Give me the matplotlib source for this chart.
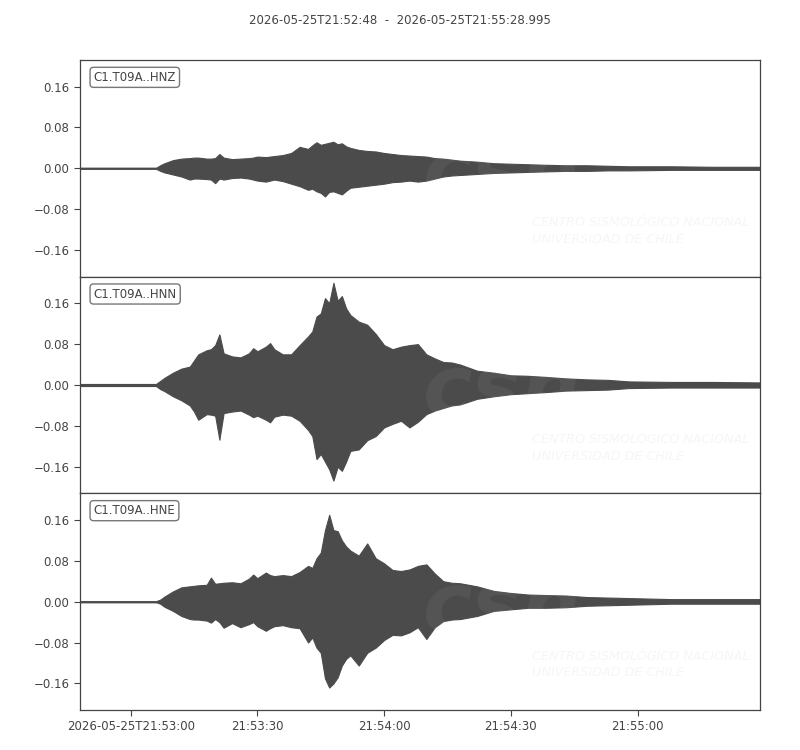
import numpy as np
import matplotlib
matplotlib.use("Agg")
import matplotlib.pyplot as plt

# ---------- Данные (огибающие трасс) ----------
TITLE = "2026-05-25T21:52:48  -  2026-05-25T21:55:28.995"
DURATION = 160.995  # секунды от 21:52:48

# время, с от начала записи
T = [0, 18, 19, 20, 22, 24, 26, 27, 28, 30, 31, 32, 33, 34, 36, 38, 40, 41, 42, 44,
     45, 46, 48, 50, 52, 54, 55, 56, 57, 58, 59, 60, 61, 62, 63, 64, 66, 68, 70, 72,
     74, 76, 78, 80, 82, 84, 86, 88, 90, 94, 98, 102, 106, 110, 115, 120, 125, 130,
     140, 150, 160.995]

HNZ_UP = [0.001, 0.001, 0.006, 0.010, 0.016, 0.019, 0.020, 0.021, 0.021, 0.019, 0.019, 0.020,
          0.028, 0.021, 0.018, 0.019, 0.020, 0.021, 0.023, 0.022, 0.023, 0.024, 0.026, 0.030,
          0.042, 0.038, 0.045, 0.051, 0.046, 0.048, 0.050, 0.052, 0.047, 0.049, 0.043, 0.040,
          0.036, 0.034, 0.033, 0.030, 0.028, 0.026, 0.025, 0.024, 0.023, 0.020, 0.019, 0.017,
          0.015, 0.013, 0.010, 0.009, 0.008, 0.007, 0.006, 0.006, 0.005, 0.004, 0.004, 0.003,
          0.003]
HNZ_LO = [-0.001, -0.001, -0.005, -0.008, -0.012, -0.016, -0.022, -0.020, -0.020, -0.021, -0.022,
          -0.029, -0.020, -0.022, -0.019, -0.018, -0.020, -0.022, -0.024, -0.026, -0.024, -0.022,
          -0.025, -0.030, -0.035, -0.042, -0.040, -0.045, -0.048, -0.055, -0.046, -0.045, -0.048,
          -0.051, -0.044, -0.038, -0.036, -0.034, -0.032, -0.030, -0.027, -0.026, -0.024, -0.026,
          -0.024, -0.020, -0.016, -0.014, -0.013, -0.011, -0.009, -0.008, -0.007, -0.006, -0.005,
          -0.005, -0.004, -0.004, -0.003, -0.003, -0.003]

HNN_UP = [0.002, 0.002, 0.008, 0.014, 0.024, 0.032, 0.036, 0.048, 0.060, 0.068, 0.070, 0.078,
          0.099, 0.062, 0.056, 0.054, 0.062, 0.072, 0.066, 0.075, 0.082, 0.070, 0.060, 0.060,
          0.078, 0.095, 0.105, 0.134, 0.140, 0.170, 0.160, 0.200, 0.165, 0.174, 0.150, 0.137,
          0.124, 0.118, 0.100, 0.078, 0.070, 0.075, 0.078, 0.080, 0.060, 0.052, 0.045, 0.044,
          0.040, 0.028, 0.024, 0.019, 0.018, 0.016, 0.013, 0.011, 0.010, 0.007, 0.006, 0.006,
          0.005]
HNN_LO = [-0.002, -0.002, -0.008, -0.012, -0.022, -0.030, -0.040, -0.052, -0.068, -0.057, -0.058,
          -0.060, -0.107, -0.055, -0.052, -0.050, -0.058, -0.063, -0.060, -0.068, -0.073, -0.062,
          -0.058, -0.060, -0.070, -0.088, -0.100, -0.145, -0.135, -0.150, -0.165, -0.187, -0.160,
          -0.168, -0.150, -0.129, -0.126, -0.108, -0.100, -0.083, -0.076, -0.070, -0.083, -0.072,
          -0.057, -0.050, -0.045, -0.040, -0.038, -0.027, -0.022, -0.018, -0.016, -0.014, -0.011,
          -0.010, -0.009, -0.006, -0.005, -0.005, -0.005]

HNE_UP = [0.001, 0.001, 0.004, 0.010, 0.020, 0.028, 0.030, 0.031, 0.032, 0.033, 0.047, 0.035,
          0.036, 0.037, 0.038, 0.036, 0.045, 0.053, 0.046, 0.057, 0.052, 0.050, 0.052, 0.050,
          0.058, 0.070, 0.066, 0.085, 0.096, 0.140, 0.170, 0.140, 0.138, 0.120, 0.108, 0.100,
          0.090, 0.114, 0.085, 0.075, 0.062, 0.060, 0.063, 0.070, 0.073, 0.055, 0.040, 0.037,
          0.036, 0.030, 0.021, 0.017, 0.014, 0.013, 0.012, 0.009, 0.008, 0.007, 0.005, 0.005,
          0.005]
HNE_LO = [-0.001, -0.001, -0.004, -0.010, -0.018, -0.028, -0.034, -0.035, -0.035, -0.037, -0.041,
          -0.034, -0.040, -0.051, -0.042, -0.050, -0.044, -0.040, -0.048, -0.057, -0.052, -0.048,
          -0.046, -0.050, -0.052, -0.080, -0.070, -0.090, -0.100, -0.150, -0.168, -0.160, -0.148,
          -0.125, -0.112, -0.105, -0.125, -0.100, -0.090, -0.075, -0.065, -0.066, -0.060, -0.050,
          -0.073, -0.050, -0.038, -0.035, -0.034, -0.028, -0.018, -0.015, -0.012, -0.012, -0.011,
          -0.008, -0.007, -0.006, -0.004, -0.004, -0.004]

CHANNELS = ["C1.T09A..HNZ", "C1.T09A..HNN", "C1.T09A..HNE"]
UPPER = [HNZ_UP, HNN_UP, HNE_UP]
LOWER = [HNZ_LO, HNN_LO, HNE_LO]

Y_TICKS = [-0.16, -0.08, 0.0, 0.08, 0.16]
X_TICKS = [12, 42, 72, 102, 132]  # с от 21:52:48
X_LABELS = ["2026-05-25T21:53:00", "21:53:30", "21:54:00", "21:54:30", "21:55:00"]

TRACE_COLOR = "#4b4b4b"
TEXT_COLOR = "#444444"
YLIM = 0.212


def fmt_y(v, pos):
    # как у matplotlib по умолчанию: настоящий минус
    return f"{v:.2f}".replace("-", "\u2212")


# ---------- Рисуем ----------
plt.rcParams["font.family"] = ["DejaVu Sans"]
plt.rcParams["font.size"] = 8.5

fig = plt.figure(figsize=(8, 7.5), dpi=100)
left, right, top, bottom = 0.1, 0.95, 1 - 60 / 750, 1 - 710 / 750
h = (top - bottom) / 3

t = np.array(T)
for i, (name, up, lo) in enumerate(zip(CHANNELS, UPPER, LOWER)):
    ax = fig.add_axes([left, top - (i + 1) * h, right - left, h])
    ax.fill_between(t, lo, up, color=TRACE_COLOR, lw=0.8, zorder=2)
    ax.plot(t, np.zeros_like(t), color=TRACE_COLOR, lw=1.0, zorder=2)

    # водяной знак CSN (едва заметный)
    ax.text(0.62, 0.47, "csn", transform=ax.transAxes, fontsize=60,
            fontweight="bold", style="italic", color="white", alpha=0.05,
            ha="center", va="center", zorder=3)
    ax.text(0.665, 0.21, "CENTRO SISMOLÓGICO NACIONAL\nUNIVERSIDAD DE CHILE",
            transform=ax.transAxes, fontsize=9.2, style="italic", color="#f6f6f6",
            ha="left", va="center", linespacing=1.35, zorder=1)

    ax.set_xlim(0, DURATION)
    ax.set_ylim(-YLIM, YLIM)
    ax.set_yticks(Y_TICKS)
    ax.yaxis.set_major_formatter(plt.FuncFormatter(fmt_y))
    ax.set_xticks(X_TICKS)
    ax.tick_params(colors=TEXT_COLOR, labelcolor=TEXT_COLOR, length=4, width=0.8)
    for sp in ax.spines.values():
        sp.set_color(TEXT_COLOR)
        sp.set_linewidth(0.9)
    if i < 2:
        ax.tick_params(axis="x", bottom=False, labelbottom=False)
    else:
        ax.set_xticklabels(X_LABELS)

    ax.text(0.02, 0.92, name, transform=ax.transAxes, ha="left", va="center",
            color=TEXT_COLOR, fontsize=8.5,
            bbox=dict(boxstyle="round,pad=0.3", fc="white", ec="#777777", lw=1.0),
            zorder=5)

fig.text(0.5, 1 - 20 / 750, TITLE, ha="center", va="center", color=TEXT_COLOR,
         fontsize=8.5)

fig.savefig("out.png", dpi=100)
